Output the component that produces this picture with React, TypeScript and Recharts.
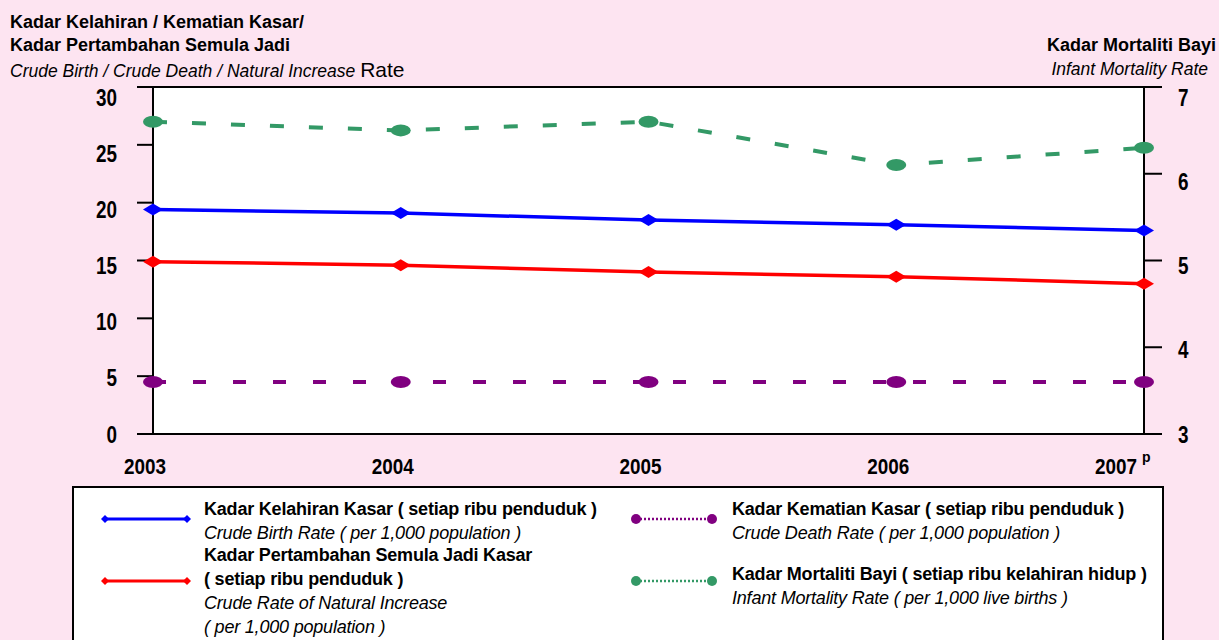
import React from "react";
import {
  LineChart,
  Line,
  XAxis,
  YAxis,
  CartesianGrid,
  ReferenceLine,
} from "recharts";

// ---------- data ----------
const years = [2003, 2004, 2005, 2006, 2007];
const crudeBirthRate = [19.4, 19.1, 18.5, 18.1, 17.6];
const naturalIncreaseRate = [14.9, 14.6, 14.0, 13.6, 13.0];
const crudeDeathRate = [4.5, 4.5, 4.5, 4.5, 4.5];
const infantMortalityRate = [6.6, 6.5, 6.6, 6.1, 6.3];

const leftTicks = [0, 5, 10, 15, 20, 25, 30];
const rightTicks = [3, 4, 5, 6, 7];
const yearLabels = ["2003", "2004", "2005", "2006", "2007"];
const provisionalMark = ["", "", "", "", "p"];

const data = years.map((y, i) => ({
  year: y,
  cbr: crudeBirthRate[i],
  nir: naturalIncreaseRate[i],
  cdr: crudeDeathRate[i],
  imr: infantMortalityRate[i],
}));

// ---------- styles ----------
const FONT =
  "'Liberation Sans Narrow', 'Arial Narrow', 'Liberation Sans', Arial, sans-serif";
const PINK = "#FDE4F1";
const BLUE = "#0000FF";
const RED = "#FF0000";
const PURPLE = "#800080";
const GREEN = "#339966";
const DIGIT_W = 10.5; // narrow digit width

const Diamond = (color: string) => (props: any) => {
  const { cx, cy } = props;
  if (cx == null || cy == null) return null;
  return (
    <polygon
      points={`${cx - 10},${cy} ${cx},${cy - 6} ${cx + 10},${cy} ${cx},${cy + 6}`}
      fill={color}
    />
  );
};

const Oval = (color: string) => (props: any) => {
  const { cx, cy } = props;
  if (cx == null || cy == null) return null;
  return <ellipse cx={cx} cy={cy} rx={10} ry={6} fill={color} />;
};

const LeftTick = (props: any) => {
  const { x, y, payload } = props;
  const v = payload.value as number;
  const s = String(v);
  return (
    <text
      x={x}
      y={y + (v / 30) * 10}
      textAnchor="end"
      dominantBaseline="central"
      fontFamily={FONT}
      fontWeight="bold"
      fontSize={24}
      textLength={s.length * DIGIT_W}
      lengthAdjust="spacingAndGlyphs"
      fill="#000"
    >
      {s}
    </text>
  );
};

const RightTick = (props: any) => {
  const { x, y, payload } = props;
  const v = payload.value as number;
  const s = String(v);
  return (
    <text
      x={x}
      y={y + ((v - 3) / 4) * 10}
      textAnchor="start"
      dominantBaseline="central"
      fontFamily={FONT}
      fontWeight="bold"
      fontSize={24}
      textLength={s.length * DIGIT_W}
      lengthAdjust="spacingAndGlyphs"
      fill="#000"
    >
      {s}
    </text>
  );
};

const BottomTick = (props: any) => {
  const { x, y, payload } = props;
  const i = years.indexOf(payload.value);
  const label = yearLabels[i];
  const mark = provisionalMark[i];
  const cy = y + 24;
  if (mark) {
    return (
      <g>
        <text
          x={x - 7}
          y={cy}
          textAnchor="end"
          dominantBaseline="central"
          fontFamily={FONT}
          fontWeight="bold"
          fontSize={22}
          textLength={label.length * DIGIT_W}
          lengthAdjust="spacingAndGlyphs"
          fill="#000"
        >
          {label}
        </text>
        <text
          x={x - 2}
          y={cy - 9}
          textAnchor="start"
          dominantBaseline="central"
          fontFamily={FONT}
          fontWeight="bold"
          fontSize={14}
          fill="#000"
        >
          {mark}
        </text>
      </g>
    );
  }
  return (
    <text
      x={x - 8}
      y={cy}
      textAnchor="middle"
      dominantBaseline="central"
      fontFamily={FONT}
      fontWeight="bold"
      fontSize={22}
      textLength={label.length * DIGIT_W}
      lengthAdjust="spacingAndGlyphs"
      fill="#000"
    >
      {label}
    </text>
  );
};

// ---------- legend ----------
type LegendItem = {
  color: string;
  kind: "diamond" | "dot";
  bold: string[];
  italic: string[];
  left: number;
  symbolTop: number;
  textTop: number;
};

const legendItems: LegendItem[] = [
  {
    color: BLUE,
    kind: "diamond",
    bold: ["Kadar Kelahiran Kasar ( setiap ribu penduduk )"],
    italic: ["Crude Birth Rate ( per 1,000 population )"],
    left: 30,
    symbolTop: 31,
    textTop: 9,
  },
  {
    color: RED,
    kind: "diamond",
    bold: ["Kadar Pertambahan Semula Jadi Kasar", "( setiap ribu penduduk )"],
    italic: ["Crude Rate of Natural Increase", "( per 1,000 population )"],
    left: 30,
    symbolTop: 93,
    textTop: 55,
  },
  {
    color: PURPLE,
    kind: "dot",
    bold: ["Kadar Kematian Kasar ( setiap ribu penduduk )"],
    italic: ["Crude Death Rate ( per 1,000 population )"],
    left: 558,
    symbolTop: 31,
    textTop: 9,
  },
  {
    color: GREEN,
    kind: "dot",
    bold: ["Kadar Mortaliti Bayi ( setiap ribu kelahiran hidup )"],
    italic: ["Infant Mortality Rate ( per 1,000 live births )"],
    left: 558,
    symbolTop: 93,
    textTop: 74,
  },
];

const LegendSymbol = ({ item }: { item: LegendItem }) => (
  <svg
    width={90}
    height={12}
    style={{ position: "absolute", left: item.left - 3, top: item.symbolTop - 6 }}
  >
    <line
      x1={3}
      y1={6}
      x2={87}
      y2={6}
      stroke={item.color}
      strokeWidth={item.kind === "diamond" ? 3 : 2.5}
      strokeDasharray={item.kind === "dot" ? "2 2" : undefined}
    />
    {item.kind === "diamond" ? (
      <>
        <polygon points="0,6 4,2 8,6 4,10" fill={item.color} />
        <polygon points="82,6 86,2 90,6 86,10" fill={item.color} />
      </>
    ) : (
      <>
        <circle cx={7} cy={6} r={5} fill={item.color} />
        <circle cx={83} cy={6} r={5} fill={item.color} />
      </>
    )}
  </svg>
);

const LegendBox = () => (
  <div
    style={{
      position: "absolute",
      left: 72,
      top: 486,
      width: 1088,
      height: 170,
      border: "2px solid #000",
      background: "#fff",
      fontFamily: FONT,
      fontSize: 18,
      color: "#000",
    }}
  >
    {legendItems.map((it, k) => (
      <React.Fragment key={k}>
        <LegendSymbol item={it} />
        <div
          style={{
            position: "absolute",
            left: it.left + 100,
            top: it.textTop,
            lineHeight: "24px",
            whiteSpace: "nowrap",
          }}
        >
          {it.bold.map((b, j) => (
            <div key={"b" + j} style={{ fontWeight: "bold", letterSpacing: -0.2 }}>
              {b}
            </div>
          ))}
          {it.italic.map((t, j) => (
            <div key={"i" + j} style={{ fontStyle: "italic", letterSpacing: -0.2 }}>
              {t}
            </div>
          ))}
        </div>
      </React.Fragment>
    ))}
  </div>
);

export default function App() {
  return (
    <div
      style={{
        position: "absolute",
        left: 0,
        top: 0,
        width: 1219,
        height: 640,
        background: PINK,
        overflow: "hidden",
        fontFamily: FONT,
        color: "#000",
      }}
    >
      <div
        style={{
          position: "absolute",
          left: 10,
          top: 11,
          fontWeight: "bold",
          fontSize: 18,
          lineHeight: "23px",
          whiteSpace: "nowrap",
        }}
      >
        <div>Kadar Kelahiran / Kematian Kasar/</div>
        <div>Kadar Pertambahan Semula Jadi</div>
      </div>
      <div
        style={{
          position: "absolute",
          left: 10,
          top: 58,
          fontSize: 17.5,
          lineHeight: "24px",
          fontStyle: "italic",
          whiteSpace: "nowrap",
        }}
      >
        Crude Birth / Crude Death / Natural Increase{" "}
        <span style={{ fontSize: 21, fontStyle: "normal" }}>Rate</span>
      </div>
      <div
        style={{
          position: "absolute",
          right: 3,
          top: 34,
          fontWeight: "bold",
          fontSize: 18,
          lineHeight: "23px",
          whiteSpace: "nowrap",
          textAlign: "right",
        }}
      >
        Kadar Mortaliti Bayi
      </div>
      <div
        style={{
          position: "absolute",
          right: 11,
          top: 57,
          fontSize: 17.5,
          lineHeight: "24px",
          fontStyle: "italic",
          whiteSpace: "nowrap",
          textAlign: "right",
        }}
      >
        Infant Mortality Rate
      </div>

      <div style={{ position: "absolute", left: 0, top: 0 }}>
        <LineChart
          width={1219}
          height={640}
          data={data}
          margin={{ top: 87, right: 15, bottom: 166, left: 93 }}
        >
          <CartesianGrid fill="#fff" stroke="none" />
          <XAxis
            dataKey="year"
            type="number"
            domain={[2003, 2007]}
            ticks={years}
            height={40}
            axisLine={{ stroke: "#000", strokeWidth: 2 }}
            tickLine={false}
            tick={<BottomTick />}
            interval={0}
          />
          <YAxis
            yAxisId="left"
            orientation="left"
            domain={[0, 30]}
            ticks={leftTicks}
            width={60}
            tickSize={16}
            tickMargin={20}
            axisLine={{ stroke: "#000", strokeWidth: 2 }}
            tickLine={{ stroke: "#000", strokeWidth: 2 }}
            tick={<LeftTick />}
            interval={0}
          />
          <YAxis
            yAxisId="right"
            orientation="right"
            domain={[3, 7]}
            ticks={rightTicks}
            width={60}
            tickSize={18}
            tickMargin={16}
            axisLine={{ stroke: "#000", strokeWidth: 2 }}
            tickLine={{ stroke: "#000", strokeWidth: 2 }}
            tick={<RightTick />}
            interval={0}
          />
          <ReferenceLine yAxisId="left" y={30} stroke="#000" strokeWidth={2} />
          <Line
            yAxisId="right"
            dataKey="imr"
            stroke={GREEN}
            strokeWidth={4}
            strokeDasharray="14 25"
            dot={Oval(GREEN)}
            activeDot={false}
            isAnimationActive={false}
          />
          <Line
            yAxisId="left"
            dataKey="cdr"
            stroke={PURPLE}
            strokeWidth={4}
            strokeDasharray="13 27"
            dot={Oval(PURPLE)}
            activeDot={false}
            isAnimationActive={false}
          />
          <Line
            yAxisId="left"
            dataKey="nir"
            stroke={RED}
            strokeWidth={3.5}
            dot={Diamond(RED)}
            activeDot={false}
            isAnimationActive={false}
          />
          <Line
            yAxisId="left"
            dataKey="cbr"
            stroke={BLUE}
            strokeWidth={3.5}
            dot={Diamond(BLUE)}
            activeDot={false}
            isAnimationActive={false}
          />
        </LineChart>
      </div>

      <LegendBox />
    </div>
  );
}
